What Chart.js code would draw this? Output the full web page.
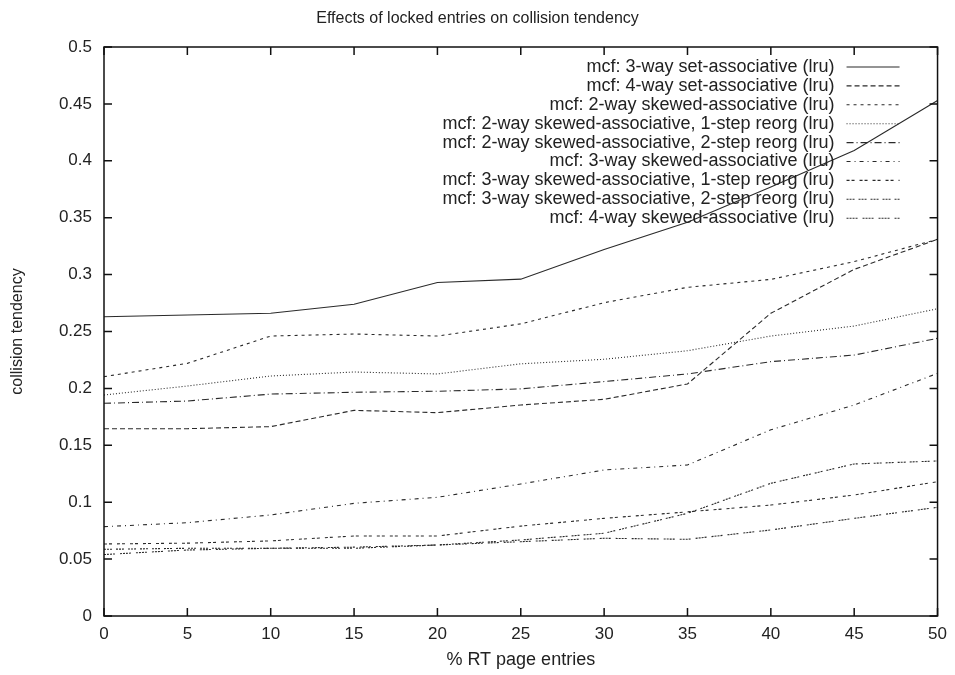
<!DOCTYPE html>
<html>
<head>
<meta charset="utf-8">
<script src="https://cdn.jsdelivr.net/npm/chart.js@4/dist/chart.umd.min.js"></script>
<style>
  html, body { margin: 0; padding: 0; background: #fff; }
  #wrap { width: 955px; height: 675px; }
</style>
</head>
<body>
<div id="wrap"><canvas id="mycanvas"></canvas></div>
<script>
// % RT page entries
var entries = [0, 5, 10, 15, 20, 25, 30, 35, 40, 45, 50];

var set3way   = [0.263, 0.2645, 0.266, 0.274, 0.293, 0.296, 0.322, 0.346, 0.377, 0.409, 0.453];
var set4way   = [0.1646, 0.1646, 0.1664, 0.1807, 0.1787, 0.1854, 0.1904, 0.2039, 0.266, 0.3046, 0.331];
var skew2     = [0.2103, 0.222, 0.246, 0.2478, 0.246, 0.2567, 0.2753, 0.2888, 0.2958, 0.3114, 0.331];
var skew2r1   = [0.1942, 0.2021, 0.2109, 0.2144, 0.2127, 0.2216, 0.2256, 0.2331, 0.246, 0.2548, 0.270];
var skew2r2   = [0.1869, 0.1889, 0.195, 0.1966, 0.1975, 0.1996, 0.206, 0.2127, 0.2235, 0.2293, 0.244];
var skew3     = [0.0785, 0.082, 0.0888, 0.099, 0.1043, 0.116, 0.1283, 0.1327, 0.1636, 0.1854, 0.2132];
var skew3r1   = [0.0633, 0.064, 0.066, 0.0703, 0.0703, 0.079, 0.0858, 0.0915, 0.0975, 0.1063, 0.118];
var skew3r2   = [0.0586, 0.0595, 0.0595, 0.0595, 0.0624, 0.0668, 0.0727, 0.0902, 0.1166, 0.1336, 0.1362];
var skew4     = [0.054, 0.058, 0.0595, 0.0605, 0.0624, 0.0653, 0.0683, 0.0674, 0.0756, 0.0858, 0.0955];

var seriesNames = [
    "mcf: 3-way set-associative (lru)",
    "mcf: 4-way set-associative (lru)",
    "mcf: 2-way skewed-associative (lru)",
    "mcf: 2-way skewed-associative, 1-step reorg (lru)",
    "mcf: 2-way skewed-associative, 2-step reorg (lru)",
    "mcf: 3-way skewed-associative (lru)",
    "mcf: 3-way skewed-associative, 1-step reorg (lru)",
    "mcf: 3-way skewed-associative, 2-step reorg (lru)",
    "mcf: 4-way skewed-associative (lru)"
];
var seriesValues = [set3way, set4way, skew2, skew2r1, skew2r2, skew3, skew3r1, skew3r2, skew4];
var dashes = [
    [],
    [5, 3],
    [3, 4],
    [1, 2],
    [7, 3, 1, 3],
    [4, 4, 1, 4],
    [3, 2, 3, 5],
    [2, 1, 2, 1, 2, 4],
    [2, 1, 2, 1, 2, 1, 2, 5]
];
var yTicks = [0, 0.05, 0.1, 0.15, 0.2, 0.25, 0.3, 0.35, 0.4, 0.45, 0.5];

var lineColor = "#2a2a2a";
var fontFamily = "'Liberation Sans', Arial, sans-serif";

Chart.defaults.font.family = fontFamily;
Chart.defaults.font.size = 17;
Chart.defaults.color = "#222";

var datasets = [];
for (var i in seriesValues) {
    var pts = [];
    for (var j in entries) {
        pts.push({ x: entries[j], y: seriesValues[i][j] });
    }
    datasets.push({
        label: seriesNames[i],
        data: pts,
        borderColor: lineColor,
        borderWidth: 1.1,
        borderDash: dashes[i],
        pointRadius: 0,
        fill: false,
        tension: 0
    });
}

// gnuplot style box with inward ticks on every side
var framePlugin = {
    id: "frame",
    afterDraw: function (chart) {
        var ctx = chart.ctx, a = chart.chartArea;
        var xs = chart.scales.x, ys = chart.scales.y;
        ctx.save();
        ctx.strokeStyle = "#111";
        ctx.lineWidth = 1.5;
        ctx.setLineDash([]);
        ctx.strokeRect(a.left, a.top, a.right - a.left, a.bottom - a.top);
        ctx.beginPath();
        var tl = 8;
        for (var k in entries) {
            var px = xs.getPixelForValue(entries[k]);
            ctx.moveTo(px, a.bottom); ctx.lineTo(px, a.bottom - tl);
            ctx.moveTo(px, a.top); ctx.lineTo(px, a.top + tl);
        }
        for (var m in yTicks) {
            var py = ys.getPixelForValue(yTicks[m]);
            ctx.moveTo(a.left, py); ctx.lineTo(a.left + tl, py);
            ctx.moveTo(a.right, py); ctx.lineTo(a.right - tl, py);
        }
        ctx.stroke();
        ctx.restore();
    }
};

// key in the top right corner: text right-aligned, sample to its right
var keyPlugin = {
    id: "key",
    afterDatasetsDraw: function (chart) {
        var ctx = chart.ctx, a = chart.chartArea;
        var textRight = a.right - 103;
        var s0 = a.right - 91, s1 = a.right - 38;
        var y0 = a.top + 20, step = 18.9;
        ctx.save();
        ctx.font = "18px " + fontFamily;
        ctx.textAlign = "right";
        ctx.textBaseline = "middle";
        chart.data.datasets.forEach(function (ds, n) {
            var y = y0 + n * step;
            ctx.fillStyle = "#222";
            ctx.fillText(ds.label, textRight, y);
            ctx.strokeStyle = lineColor;
            ctx.lineWidth = 1.1;
            ctx.setLineDash(ds.borderDash);
            ctx.beginPath();
            ctx.moveTo(s0, y);
            ctx.lineTo(s1, y);
            ctx.stroke();
        });
        ctx.restore();
    }
};

var titlePlugin = {
    id: "toptitle",
    afterDraw: function (chart) {
        var ctx = chart.ctx;
        ctx.save();
        ctx.font = "16px " + fontFamily;
        ctx.fillStyle = "#222";
        ctx.textAlign = "center";
        ctx.textBaseline = "middle";
        ctx.fillText("Effects of locked entries on collision tendency", chart.width / 2, 19);
        ctx.restore();
    }
};

var ctx = document.getElementById("mycanvas");
var lineGraph = new Chart(ctx, {
    type: "line",
    data: { datasets: datasets },
    options: {
        responsive: true,
        maintainAspectRatio: false,
        animation: false,
        layout: { padding: { top: 47, right: 17, left: 0, bottom: 0 } },
        plugins: {
            legend: { display: false },
            tooltip: { enabled: false }
        },
        scales: {
            x: {
                type: "linear",
                min: 0,
                max: 50,
                afterBuildTicks: function (s) { s.ticks = entries.map(function (v) { return { value: v }; }); },
                afterFit: function (s) { s.height = 59; },
                grid: { display: false, drawTicks: false },
                border: { display: false },
                ticks: { padding: 8, maxRotation: 0, autoSkip: false },
                title: { display: true, text: "% RT page entries", font: { size: 18 }, padding: { top: 0, bottom: 4 } }
            },
            y: {
                type: "linear",
                min: 0,
                max: 0.5,
                afterBuildTicks: function (s) { s.ticks = yTicks.map(function (v) { return { value: v }; }); },
                afterFit: function (s) { s.width = 104; },
                grid: { display: false, drawTicks: false },
                border: { display: false },
                ticks: {
                    padding: 12,
                    callback: function (v) { return String(+v.toFixed(2)); }
                },
                title: { display: true, text: "collision tendency", font: { size: 16 }, padding: { top: 8, bottom: 0 } }
            }
        }
    },
    plugins: [framePlugin, keyPlugin, titlePlugin]
});
</script>
</body>
</html>
